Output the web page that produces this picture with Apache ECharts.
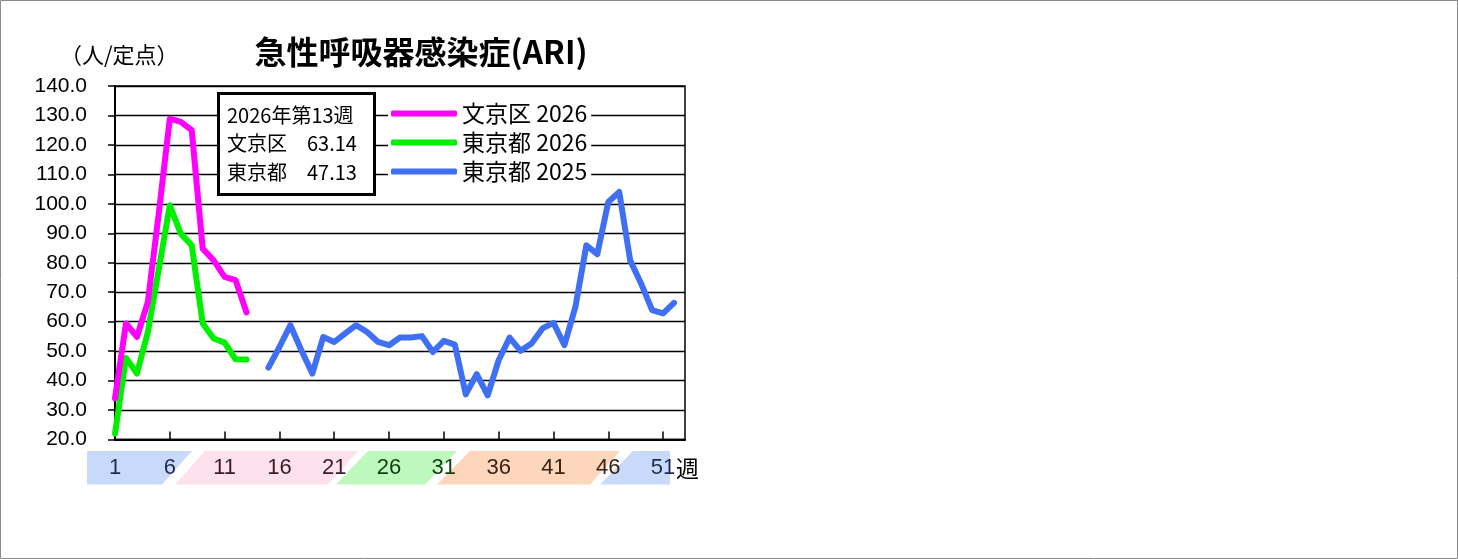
<!DOCTYPE html>
<html><head><meta charset="utf-8">
<script src="https://cdn.jsdelivr.net/npm/echarts@6/dist/echarts.min.js"></script>
<style>html,body{margin:0;padding:0;background:#fff}#c{width:1458px;height:559px}</style>
</head><body><div id="c"></div>
<script>
const weeks = Array.from({length:53},(_,i)=>String(i+1));
const bunkyo2026 = [34,59.4,54.8,66.7,97,128.9,127.8,125,84.8,80.8,75.2,74.1,63.14];
const tokyo2026 = [22,47.7,42.4,56.5,78,99.5,89.9,85.9,59.4,54.3,52.9,47.2,47.13];
const tokyo2025From15 = [44.4,51.4,58.8,50.3,42.4,54.8,53.1,56,58.8,56.5,53.1,52,54.6,54.6,55.1,49.7,53.5,52.2,35.3,42.2,35.0,46.9,54.6,50.1,52.6,57.7,59.6,52,65,85.9,82.9,100.6,104,80.8,72.9,63.9,62.8,66.4];
const seriesNames = ['文京区 2026','東京都 2026','東京都 2025'];
const boxLines = ['2026年第13週','文京区　63.14','東京都　47.13'];

function pad(arr, start){ const out = new Array(53).fill(null); arr.forEach((v,i)=>{out[start+i]=v;}); return out; }
const s1 = pad(bunkyo2026,0), s2 = pad(tokyo2026,0), s3 = pad(tokyo2025From15,14);

const jp = "'Noto Sans CJK JP','Noto Sans',sans-serif";
const labelColor = (v)=>{ const w=+v; if(w<=6||w>=51) return '#1c2b55'; if(w<=21) return '#3a1c26'; if(w<=31) return '#123d12'; return '#3b2214'; };

const chart = echarts.init(document.getElementById('c'));
const lineStyle = c=>({width:6,color:c,cap:'round',join:'round'});
chart.setOption({
  animation:false,
  backgroundColor:'#fff',
  title:[
    {text:'急性呼吸器感染症(ARI)',left:416,top:31,textAlign:'center',textStyle:{fontFamily:jp,fontSize:32,fontWeight:'bold',color:'#000'}},
    {text:'（人/定点）',left:55,top:39,textStyle:{fontFamily:jp,fontSize:22,fontWeight:'normal',color:'#000'}},
    {text:boxLines.join('\n'),left:218,top:93,borderColor:'#000',borderWidth:3,backgroundColor:'#fff',padding:[8,18,8,9],
     textStyle:{fontFamily:jp,fontSize:20,fontWeight:'normal',lineHeight:28.5,color:'#000'}}
  ],
  legend:{orient:'vertical',left:388,top:98,backgroundColor:'#fff',padding:[4,4,4,3],itemGap:6,itemWidth:66,itemHeight:6,icon:'roundRect',
    textStyle:{fontFamily:jp,fontSize:23,color:'#000'},data:seriesNames},
  grid:{left:115,top:86,width:570,height:353.5,show:true,borderColor:'#000',borderWidth:1.5,backgroundColor:'transparent'},
  xAxis:{type:'category',data:weeks,boundaryGap:false,
    axisLine:{lineStyle:{color:'#000',width:2}},
    axisTick:{inside:true,length:8,lineStyle:{color:'#000',width:1.5},interval:(i)=>i%5===0},
    axisLabel:{interval:(i)=>i%5===0,margin:17,fontSize:22,fontFamily:"'Liberation Sans',Arial,sans-serif",color:labelColor},
    splitLine:{show:false}},
  yAxis:{type:'value',min:20,max:140,interval:10,
    axisLine:{show:true,lineStyle:{color:'#000',width:2}},
    axisTick:{show:true,length:7,lineStyle:{color:'#000',width:1.5}},
    axisLabel:{formatter:v=>v.toFixed(1),fontSize:21,margin:28,fontFamily:"'Liberation Sans',Arial,sans-serif",color:'#000'},
    splitLine:{lineStyle:{color:'#000',width:1.3}}},
  graphic:[
    {type:'rect',shape:{x:0.5,y:0.5,width:1457,height:558},style:{fill:'none',stroke:'#8a8a8a',lineWidth:1},z:-5},
    {type:'polygon',shape:{points:[[87,451],[192,451],[162,484.5],[87,484.5]]},style:{fill:'#c9d9f9'},z:-5},
    {type:'polygon',shape:{points:[[205,451],[358,451],[328,484.5],[175,484.5]]},style:{fill:'#fde1ec'},z:-5},
    {type:'polygon',shape:{points:[[368,451],[457,451],[425,484.5],[336,484.5]]},style:{fill:'#bdf8bd'},z:-5},
    {type:'polygon',shape:{points:[[470,451],[620,451],[590,484.5],[437,484.5]]},style:{fill:'#fdd6bb'},z:-5},
    {type:'polygon',shape:{points:[[633,451],[670,451],[670,484.5],[600,484.5]]},style:{fill:'#c9d9f9'},z:-5},
    {type:'text',left:676,top:457,style:{text:'週',fontFamily:jp,fontSize:23,fill:'#000'}}
  ],
  series:[
    {name:seriesNames[0],type:'line',data:s1,showSymbol:false,connectNulls:false,lineStyle:lineStyle('#ff00ff'),itemStyle:{color:'#ff00ff'},z:4},
    {name:seriesNames[1],type:'line',data:s2,showSymbol:false,connectNulls:false,lineStyle:lineStyle('#00f000'),itemStyle:{color:'#00f000'},z:3},
    {name:seriesNames[2],type:'line',data:s3,showSymbol:false,connectNulls:false,lineStyle:lineStyle('#3f6ff2'),itemStyle:{color:'#3f6ff2'},z:2}
  ]
});
</script></body></html>
